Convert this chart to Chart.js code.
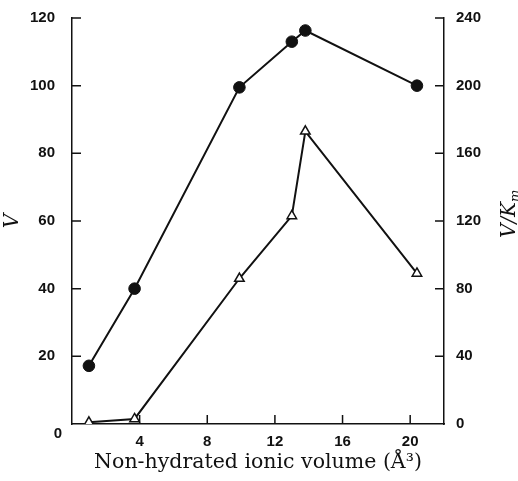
<!DOCTYPE html>
<html>
<head>
<meta charset="utf-8">
<script src="https://cdn.jsdelivr.net/npm/chart.js@4.4.0/dist/chart.umd.min.js"></script>
<style>
html, body { margin: 0; padding: 0; background: #fff; }
</style>
</head>
<body>
<canvas id="chart" width="518" height="481"></canvas>
<script>
var volume    = [1.0, 3.7, 9.9, 13.0, 13.8, 20.4];
var vValues   = [17.2, 40, 99.5, 113, 116.3, 100];
var vkmValues = [1, 3, 86, 123, 173, 89];
var xTicks    = [0, 4, 8, 12, 16, 20];
var vTicks    = [0, 20, 40, 60, 80, 100, 120];
var vkmTicks  = [0, 40, 80, 120, 160, 200, 240];

var ink = "#111"
  , numFont = { family: "'Liberation Sans', Arial, sans-serif", size: 15, weight: "bold" }
  , serif = "'DejaVu Serif', 'Liberation Serif', serif";

function points(ys) {
	return volume.map(function (x, i) { return { x: x, y: ys[i] }; });
}

// inward tick marks, the shared corner "0" and the right-hand title
var extras = {
	id: "extras",
	afterDraw: function (chart) {
		var ctx = chart.ctx
		  , a = chart.chartArea
		  , sx = chart.scales.x
		  , sv = chart.scales.v
		  , sk = chart.scales.vkm
		  , len = 9;
		ctx.save();
		ctx.strokeStyle = ink;
		ctx.lineWidth = 1.5;
		ctx.beginPath();
		vTicks.forEach(function (t) {
			if (t === 0) return;
			var y = sv.getPixelForValue(t);
			ctx.moveTo(a.left, y); ctx.lineTo(a.left + len, y);
		});
		vkmTicks.forEach(function (t) {
			if (t === 0) return;
			var y = sk.getPixelForValue(t);
			ctx.moveTo(a.right, y); ctx.lineTo(a.right - len, y);
		});
		xTicks.forEach(function (t) {
			if (t === 0) return;
			var x = sx.getPixelForValue(t);
			ctx.moveTo(x, a.bottom); ctx.lineTo(x, a.bottom - len);
		});
		ctx.stroke();

		ctx.fillStyle = ink;
		ctx.font = "bold 15px " + numFont.family;
		ctx.textAlign = "center";
		ctx.textBaseline = "middle";
		ctx.fillText("0", a.left - 14, a.bottom + 10);

		ctx.translate(509, (a.top + a.bottom) / 2 - 6);
		ctx.rotate(-Math.PI / 2);
		ctx.textAlign = "left";
		ctx.textBaseline = "alphabetic";
		ctx.font = "italic 20px " + serif;
		var w1 = ctx.measureText("V/K").width;
		ctx.fillText("V/K", -w1 / 2 - 5, 6);
		ctx.font = "italic 13px " + serif;
		ctx.fillText("m", w1 / 2 - 5, 10);
		ctx.restore();
	}
};

var ctx = document.getElementById("chart").getContext("2d");
var chart = new Chart(ctx, {
	type: "scatter",
	data: {
		datasets: [
			{
				label: "V/Km",
				yAxisID: "vkm",
				data: points(vkmValues),
				showLine: true,
				borderColor: ink,
				borderWidth: 2,
				pointStyle: "triangle",
				pointRadius: 5.5,
				pointBackgroundColor: "#fff",
				pointBorderColor: ink,
				pointBorderWidth: 1.5
			},
			{
				label: "V",
				yAxisID: "v",
				data: points(vValues),
				showLine: true,
				borderColor: ink,
				borderWidth: 2,
				pointStyle: "circle",
				pointRadius: 5.8,
				pointBackgroundColor: ink,
				pointBorderColor: ink,
				pointBorderWidth: 1
			}
		]
	},
	options: {
		responsive: false,
		animation: false,
		layout: { padding: { top: 18, left: 0, right: 0, bottom: 0 } },
		plugins: { legend: { display: false }, tooltip: { enabled: false } },
		scales: {
			x: {
				type: "linear",
				min: 0, max: 22,
				afterFit: function (s) { s.height = 57; },
				afterBuildTicks: function (s) { s.ticks = xTicks.map(function (v) { return { value: v }; }); },
				grid: { display: false },
				border: { display: true, color: ink, width: 1.5 },
				ticks: {
					color: ink, font: numFont, padding: 1, maxRotation: 0,
					callback: function (v) { return v === 0 ? "" : v; }
				},
				title: {
					display: true,
					text: "Non-hydrated ionic volume (Å³)",
					color: ink,
					font: { family: serif, size: 20.5 },
					padding: { top: 6, bottom: 6 }
				}
			},
			v: {
				type: "linear",
				position: "left",
				min: 0, max: 120,
				afterFit: function (s) { s.width = 72; },
				afterBuildTicks: function (s) { s.ticks = vTicks.map(function (v) { return { value: v }; }); },
				grid: { display: false },
				border: { display: true, color: ink, width: 1.5 },
				ticks: {
					color: ink, font: numFont, padding: 9,
					callback: function (v) { return v === 0 ? "" : v; }
				},
				title: {
					display: true,
					text: "V",
					color: ink,
					font: { family: serif, size: 20, style: "italic" },
					padding: { top: 1, bottom: 0 }
				}
			},
			vkm: {
				type: "linear",
				position: "right",
				min: 0, max: 240,
				afterFit: function (s) { s.width = 74; },
				afterBuildTicks: function (s) { s.ticks = vkmTicks.map(function (v) { return { value: v }; }); },
				grid: { display: false },
				border: { display: true, color: ink, width: 1.5 },
				ticks: { color: ink, font: numFont, padding: 4 }
			}
		}
	},
	plugins: [extras]
});
</script>
</body>
</html>
